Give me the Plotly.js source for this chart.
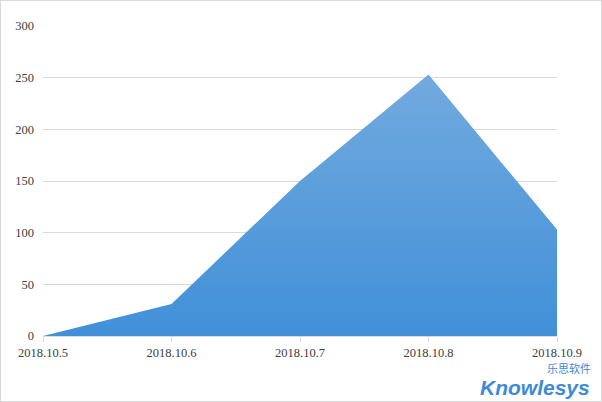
<!DOCTYPE html>
<html><head><meta charset="utf-8">
<script src="https://cdn.plot.ly/plotly-3.0.1.min.js"></script>
<style>html,body{margin:0;padding:0;background:#fff}#c{width:602px;height:402px;box-sizing:border-box;border:1px solid #d9d9d9}</style>
</head><body><div id="c"></div>
<script>
const categories = ['2018.10.5','2018.10.6','2018.10.7','2018.10.8','2018.10.9'];
const values = [0, 31, 150, 253, 103];
const yTicks = [0, 50, 100, 150, 200, 250, 300];

const trace = {
  x: categories, y: values, type: 'scatter', mode: 'lines',
  fill: 'tozeroy',
  line: {color: 'rgba(0,0,0,0)', width: 0},
  fillgradient: {type: 'vertical', colorscale: [[0, '#4190d8'], [1, '#72aadf']]},
  hoverinfo: 'x+y'
};
const font = {family: '"Liberation Serif", "Times New Roman", serif', size: 12.5, color: '#404040'};
const layout = {
  width: 600, height: 400,
  margin: {l: 42, r: 44, t: 25, b: 65},
  paper_bgcolor: '#fff', plot_bgcolor: '#fff',
  showlegend: false,
  font: font,
  xaxis: {
    type: 'category', range: [0, 4], showgrid: false, zeroline: false,
    showline: true, linecolor: '#d9d9d9', linewidth: 1,
    ticks: 'outside', ticklen: 5, tickcolor: '#d9d9d9',
    tickfont: font
  },
  yaxis: {
    range: [0, 300], tickvals: yTicks, ticktext: yTicks.map(String),
    showgrid: true, gridcolor: '#d9d9d9', gridwidth: 1,
    zeroline: false, showline: false, ticks: '', ticklabelstandoff: 8,
    tickfont: font
  },
  annotations: [
    {xref: 'paper', yref: 'paper', x: 1.066, y: -0.1677, xanchor: 'right', yanchor: 'middle',
     text: '<b><i>Knowlesys</i></b>', showarrow: false, borderpad: 0,
     font: {family: '"Liberation Sans", Arial, sans-serif', size: 21, color: '#3f8ad6'}},
    {xref: 'paper', yref: 'paper', x: 1.068, y: -0.1032, xanchor: 'right', yanchor: 'middle',
     text: '乐思软件', showarrow: false, borderpad: 0,
     font: {family: '"Noto Sans CJK SC", sans-serif', size: 11, color: '#3f8ad6'}}
  ]
};
Plotly.newPlot('c', [trace], layout, {displayModeBar: false, staticPlot: true});
</script></body></html>
